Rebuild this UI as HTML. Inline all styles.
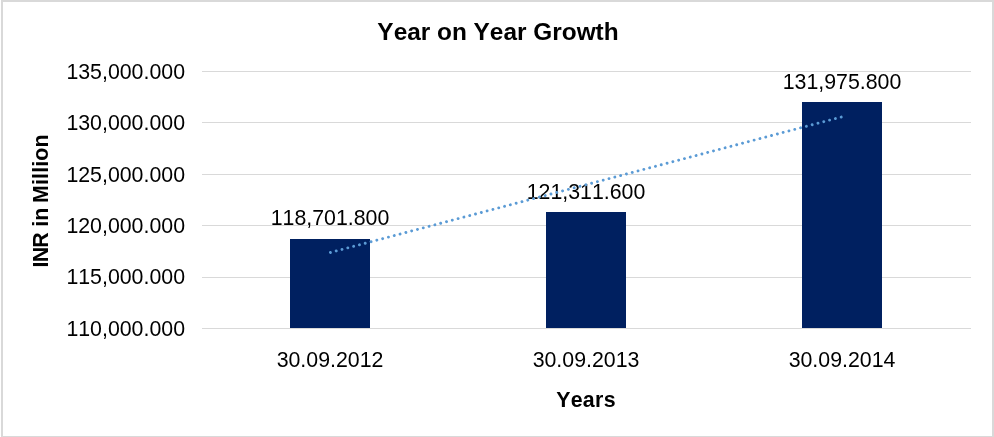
<!DOCTYPE html>
<html>
<head>
<meta charset="utf-8">
<title>Year on Year Growth</title>
<style>
html,body{margin:0;padding:0;background:#fff;}
body{width:994px;height:437px;position:relative;overflow:hidden;font-family:"Liberation Sans",Arial,sans-serif;color:#000;font-kerning:none;}
.frame{position:absolute;left:1px;top:0;width:989px;height:434px;border-style:solid;border-color:#d9d9d9;border-width:2px 2px 1px 2px;box-sizing:content-box;}
.abs{position:absolute;white-space:nowrap;line-height:1;}
.grid{position:absolute;left:202px;width:769px;height:1px;background:#d9d9d9;}
.bar{position:absolute;background:#002060;width:80px;}
.ylab{position:absolute;white-space:nowrap;line-height:1;font-size:21.33px;right:809px;text-align:right;}
.xlab{position:absolute;white-space:nowrap;line-height:1;font-size:21.33px;width:200px;text-align:center;}
.dlab{position:absolute;white-space:nowrap;line-height:1;font-size:21.33px;width:200px;text-align:center;}
</style>
</head>
<body>
<div class="frame"></div>

<div class="abs" id="title" style="left:1px;width:994px;text-align:center;top:20px;font-size:24.4px;font-weight:bold;">Year on Year Growth</div>

<div class="grid" style="top:71px"></div>
<div class="grid" style="top:122px"></div>
<div class="grid" style="top:174px"></div>
<div class="grid" style="top:225px"></div>
<div class="grid" style="top:277px"></div>
<div class="grid" style="top:328px"></div>

<div class="ylab" style="top:62px">135,000.000</div>
<div class="ylab" style="top:113px">130,000.000</div>
<div class="ylab" style="top:165px">125,000.000</div>
<div class="ylab" style="top:216px">120,000.000</div>
<div class="ylab" style="top:267px">115,000.000</div>
<div class="ylab" style="top:319px">110,000.000</div>

<div class="bar" style="left:290px;top:239px;height:89px"></div>
<div class="bar" style="left:546px;top:212px;height:116px"></div>
<div class="bar" style="left:802px;top:102px;height:226px"></div>

<div class="dlab" style="left:230px;top:208px">118,701.800</div>
<div class="dlab" style="left:486px;top:182px">121,311.600</div>
<div class="dlab" style="left:742px;top:72px">131,975.800</div>

<svg class="abs" style="left:0;top:0" width="994" height="437" viewBox="0 0 994 437">
<line x1="330.4" y1="252.5" x2="841.4" y2="117" stroke="#5b9bd5" stroke-width="2.9" stroke-dasharray="0.01 5.995" stroke-linecap="round"/>
</svg>

<div class="xlab" style="left:230px;top:350px">30.09.2012</div>
<div class="xlab" style="left:486px;top:350px">30.09.2013</div>
<div class="xlab" style="left:742px;top:350px">30.09.2014</div>

<div class="abs" id="xt" style="letter-spacing:0.3px;left:486px;width:200px;text-align:center;top:390px;font-size:21.33px;font-weight:bold;">Years</div>
<div class="abs" id="yt" style="left:41.5px;top:200.75px;font-size:21.33px;font-weight:bold;transform:translate(-50%,-50%) rotate(-90deg);"><span style="letter-spacing:-0.7px">IN</span>R<span style="word-spacing:-0.5px"> </span>in<span style="word-spacing:-1px"> </span><span style="letter-spacing:0.13px">Million</span></div>
</body>
</html>
